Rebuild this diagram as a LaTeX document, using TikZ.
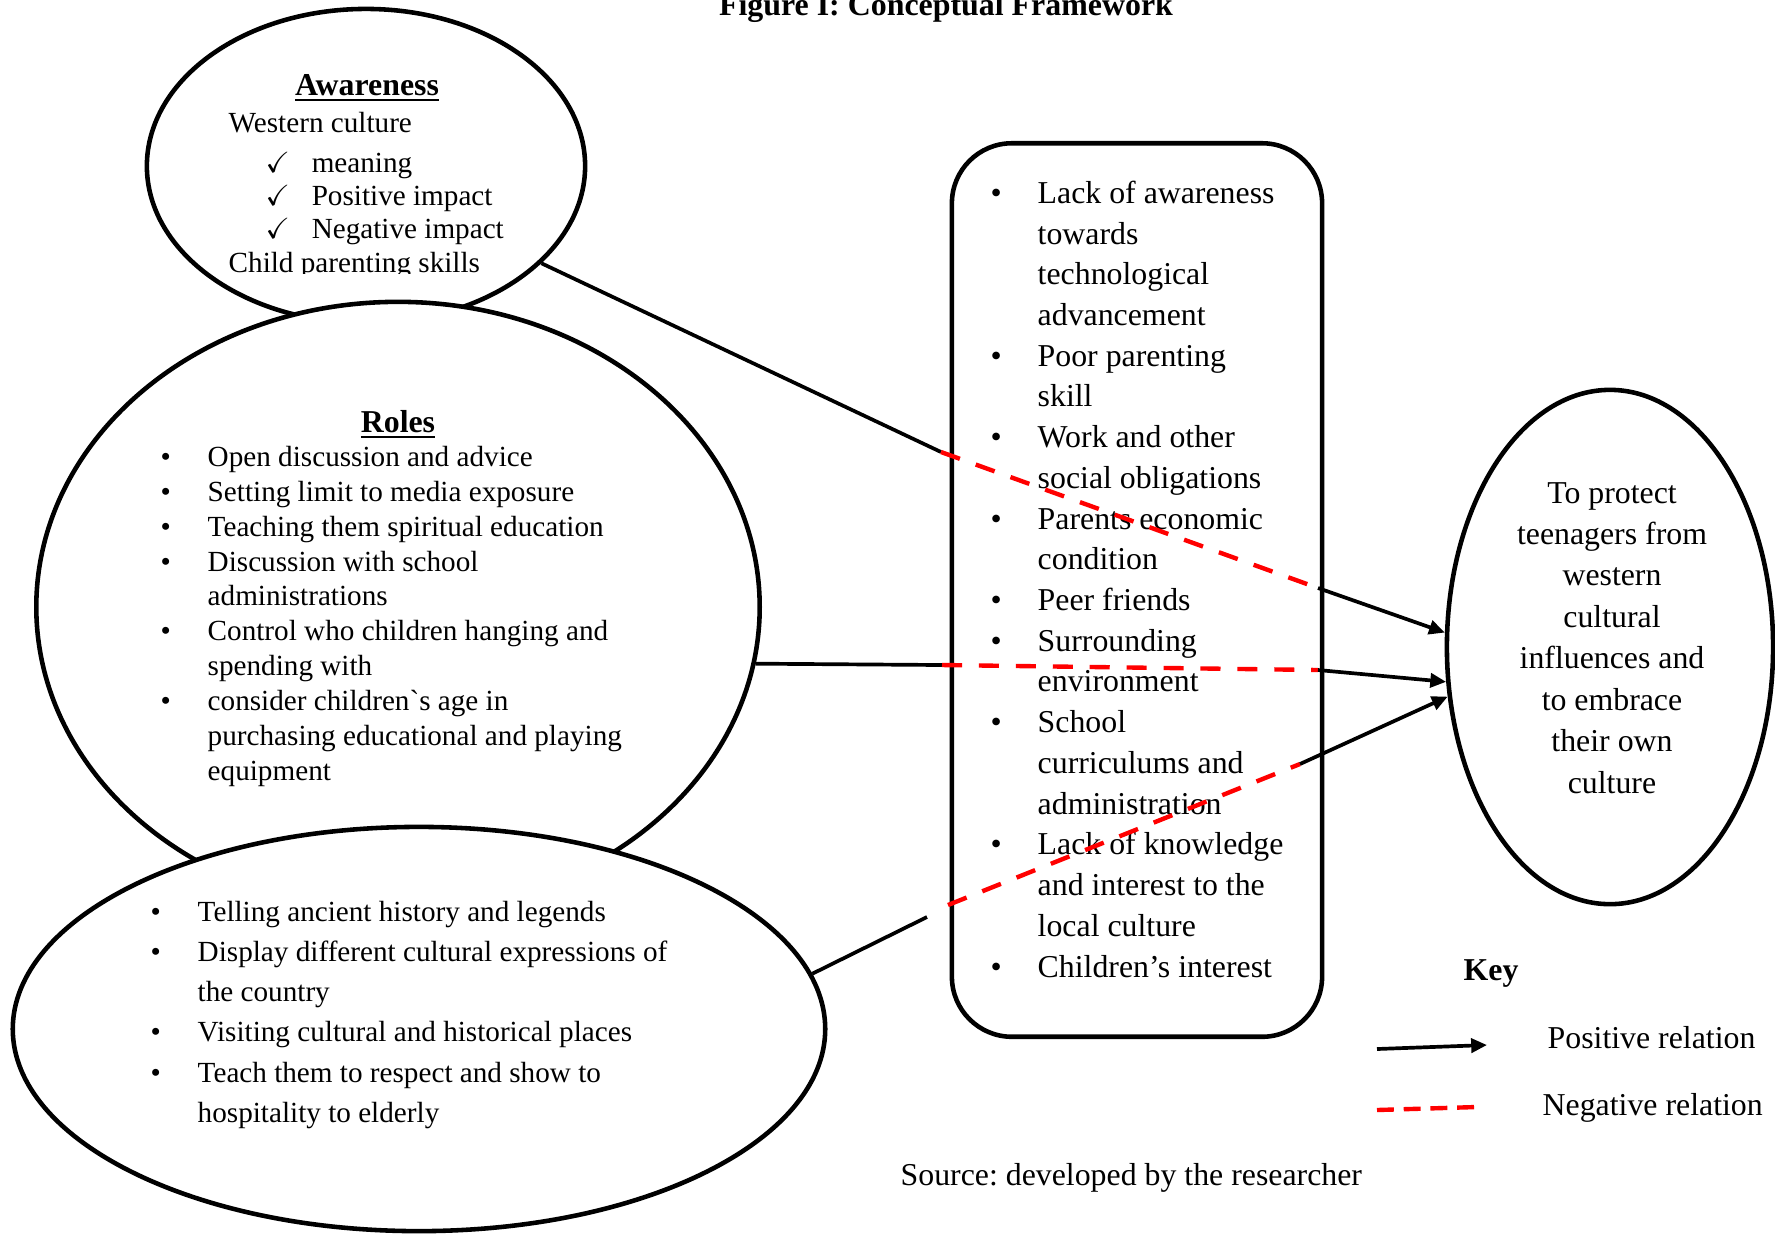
\documentclass[tikz,border=0pt]{standalone}
\usepackage{amssymb}
\usepackage{fontspec}
\setmainfont{Liberation Serif}
\usepackage{tikz}
\usetikzlibrary{shapes.geometric,arrows.meta}
\frenchspacing
\newcommand{\itm}{\makebox[0.47cm][l]{\textbullet}}
\newcommand{\cnt}{\hspace*{0.47cm}}
\newcommand{\chk}{\hspace*{0.37cm}\makebox[0.46cm][l]{$\checkmark$}}
\tikzset{oval/.style={draw, ellipse, line width=1.3pt, fill=white, inner sep=0pt},
  factorbox/.style={draw, rectangle, rounded corners=0.6cm, line width=1.3pt,
    fill=white, inner sep=0pt},
  listtext/.style={anchor=base west, align=left, inner sep=0pt},
  smalltext/.style={font=\fontsize{8.3pt}{#1}\selectfont},
  bigtext/.style={font=\fontsize{9.05pt}{#1}\selectfont},
  posline/.style={line width=1.05pt},
  negline/.style={red, line width=1.25pt, dash pattern=on 5.7pt off 4.8pt},
  tip/.style={-{Triangle[length=4.5pt,width=4pt]}}
}
\begin{document}
\begin{tikzpicture}[x=0.01cm,y=-0.01cm]
\useasboundingbox (0,0) rectangle (1775,1235);
\clip (0,0) rectangle (1775,1235);
\node[anchor=base, inner sep=0pt, font=\bfseries\fontsize{9.07pt}{11pt}\selectfont] (title) at (946,15) {Figure I: Conceptual Framework};

\node[oval, minimum width=4.38cm, minimum height=3.14cm] (aware) at (366,166) {};
\begin{scope}
  \clip (150,40) rectangle (580,273);
  \node[anchor=base, inner sep=0pt, bigtext=11pt] (awarehead) at (367,95) {\underline{\textbf{Awareness}}};
  \node[listtext, smalltext=9.39pt] (awarelist) at (228,272) {Western culture\\[2pt]
    \chk meaning\\
    \chk Positive impact\\
    \chk Negative impact\\
    Child parenting skills};
\end{scope}

\node[oval, minimum width=7.23cm, minimum height=6.10cm] (roles) at (398,607) {};
\node[anchor=base, inner sep=0pt, bigtext=11pt] (roleshead) at (398,432) {\underline{\textbf{Roles}}};
\node[listtext, smalltext=9.9pt] (roleslist) at (160,780) {\itm Open discussion and advice\\
  \itm Setting limit to media exposure\\
  \itm Teaching them spiritual education\\
  \itm Discussion with school\\
  \cnt administrations\\
  \itm Control who children hanging and\\
  \cnt spending with\\
  \itm consider children\textasciigrave s age in\\
  \cnt purchasing educational and playing\\
  \cnt equipment};

\node[oval, minimum width=8.12cm, minimum height=4.04cm] (ways) at (419,1029) {};
\node[listtext, smalltext=11.38pt] (wayslist) at (150,1122) {\itm Telling ancient history and legends\\
  \itm Display different cultural expressions of\\
  \cnt the country\\
  \itm Visiting cultural and historical places\\
  \itm Teach them to respect and show to\\
  \cnt hospitality to elderly};

\node[factorbox, minimum width=3.70cm, minimum height=8.93cm] (factors) at (1137,590) {};
\node[listtext, bigtext=11.58pt] (factorlist) at (990,977) {\itm Lack of awareness\\
  \cnt towards\\
  \cnt technological\\
  \cnt advancement\\
  \itm Poor parenting\\
  \cnt skill\\
  \itm Work and other\\
  \cnt social obligations\\
  \itm Parents economic\\
  \cnt condition\\
  \itm Peer friends\\
  \itm Surrounding\\
  \cnt environment\\
  \itm School\\
  \cnt curriculums and\\
  \cnt administration\\
  \itm Lack of knowledge\\
  \cnt and interest to the\\
  \cnt local culture\\
  \itm Children’s interest};

\node[oval, minimum width=3.26cm, minimum height=5.14cm] (goal) at (1610,647) {};
\node[anchor=base, align=center, inner sep=0pt, bigtext=11.78pt] (goaltext) at (1612,793) {To protect\\
  teenagers from\\ western\\ cultural\\ influences and\\ to embrace\\ their own\\ culture};

\coordinate (a1) at (941,452);
\coordinate (a2) at (1318,588);
\coordinate (b1) at (942,665);
\coordinate (b2) at (1318,670);
\coordinate (c1) at (927,917);
\coordinate (c2) at (948,905);
\coordinate (c3) at (1300,764);
\draw[posline] (aware.331) -- (a1);
\draw[negline] (a1) -- (a2);
\draw[posline,tip] (a2) -- (goal.175);
\draw[posline] (roles.351) -- (b1);
\draw[negline] (b1) -- (b2);
\draw[posline,tip] (b2) -- (goal.192);
\draw[posline] (ways.8) -- (c1);
\draw[negline] (c2) -- (c3);
\draw[posline,tip] (c3) -- (goal.197);

\node[anchor=base west, inner sep=0pt, font=\bfseries\fontsize{9.05pt}{11pt}\selectfont] (key) at (1463,980) {Key};
\coordinate (k1) at (1377,1049);
\coordinate (k2) at (1487,1045);
\coordinate (k3) at (1377,1110);
\coordinate (k4) at (1477,1107);
\draw[posline,tip] (k1) -- (k2);
\draw[negline, dash pattern=on 4.8pt off 2.8pt] (k3) -- (k4);
\node[anchor=base west, inner sep=0pt, bigtext=11pt] (pos) at (1547,1048) {Positive relation};
\node[anchor=base west, inner sep=0pt, bigtext=11pt] (neg) at (1542,1115) {Negative relation};
\node[anchor=base west, inner sep=0pt, bigtext=11pt] (source) at (900,1185) {Source: developed by the researcher};
\end{tikzpicture}
\end{document}
